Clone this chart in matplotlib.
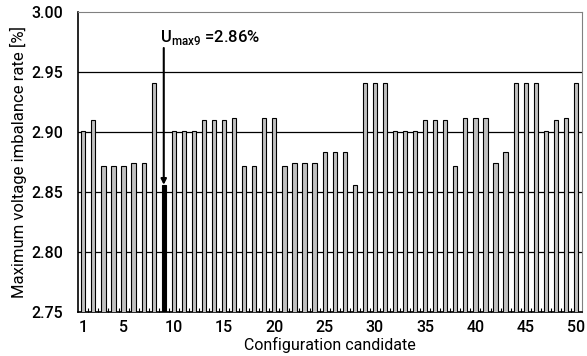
import matplotlib
matplotlib.use("Agg")
import matplotlib.pyplot as plt
import numpy as np

# configuration candidates 1..50
candidates = np.arange(1, 51)
imbalance = [
    2.901, 2.910, 2.872, 2.872, 2.872, 2.874, 2.874, 2.941, 2.856, 2.901,
    2.901, 2.901, 2.910, 2.910, 2.910, 2.912, 2.872, 2.872, 2.912, 2.912,
    2.872, 2.874, 2.874, 2.874, 2.883, 2.883, 2.883, 2.856, 2.941, 2.941,
    2.941, 2.901, 2.901, 2.901, 2.910, 2.910, 2.910, 2.872, 2.912, 2.912,
    2.912, 2.874, 2.883, 2.941, 2.941, 2.941, 2.901, 2.910, 2.912, 2.941,
]
best = 9
xtick_labels = [1, 5, 10, 15, 20, 25, 30, 35, 40, 45, 50]
yticks = [2.75, 2.80, 2.85, 2.90, 2.95, 3.00]

plt.rcParams['font.family'] = ['Roboto', 'DejaVu Sans']
plt.rcParams['font.weight'] = 'medium'
fs = 11.5

fig = plt.figure(figsize=(5.87, 3.56), dpi=100)
ax = fig.add_axes([0.1334, 0.1236, 0.8581, 0.8427])

colors = ['black' if c == best else '#c0c0c0' for c in candidates]
ax.bar(candidates, imbalance, bottom=0, width=0.42, color=colors,
       edgecolor='black', linewidth=0.8, zorder=3)

ax.set_ylim(2.75, 3.00)
ax.set_xlim(0.5, 50.6)
ax.set_yticks(yticks)
ax.set_yticklabels([f"{v:.2f}" for v in yticks], fontsize=fs)
ax.tick_params(axis='y', length=0, pad=11)
for v in yticks[1:-1]:
    ax.axhline(v, color='black', lw=0.9, zorder=1)

ax.set_xticks(xtick_labels)
ax.set_xticklabels([str(v) for v in xtick_labels], fontsize=fs)
ax.set_xticks(np.arange(1.5, 50.5, 1), minor=True)
ax.tick_params(axis='x', which='major', length=0, pad=6)
ax.tick_params(axis='x', which='minor', direction='in', length=3, width=0.8)

for s in ['top', 'right']:
    ax.spines[s].set_color('#808080')
for s in ['left', 'bottom']:
    ax.spines[s].set_linewidth(1.2)

ax.set_xlabel('Configuration candidate', fontsize=fs, labelpad=1)
ax.set_ylabel('Maximum voltage imbalance rate [%]', fontsize=12, labelpad=3)

val = imbalance[best - 1]
ax.annotate('', xy=(best, val), xytext=(best, 2.97),
            arrowprops=dict(arrowstyle='-|>', lw=1.5, color='black',
                            mutation_scale=8, shrinkA=0, shrinkB=0), zorder=5)
ax.text(best - 0.4, 2.979, r'U$_{\mathregular{max9}}$ =%.2f%%' % val,
        fontsize=12, ha='left', va='center', zorder=5)

fig.savefig('out.png', dpi=100)
